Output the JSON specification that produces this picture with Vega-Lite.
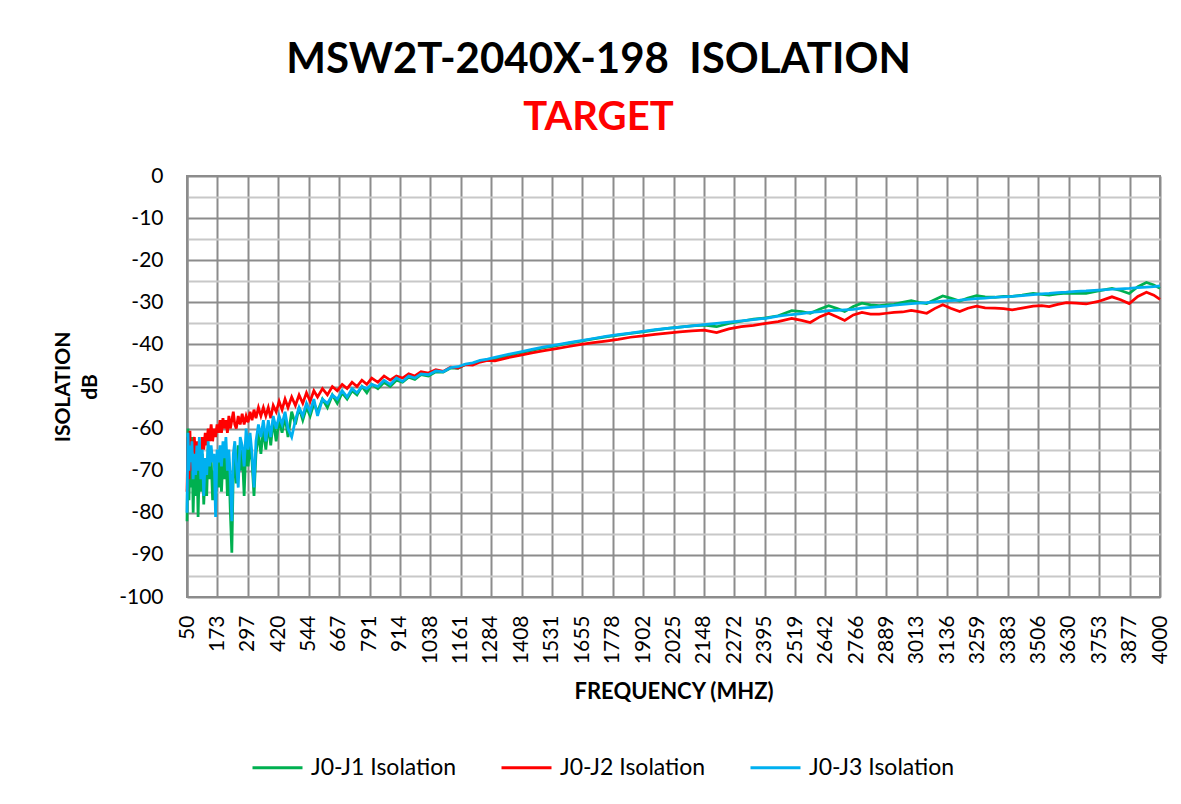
{
  "$schema": "https://vega.github.io/schema/vega-lite/v6.json",
  "width": 973,
  "height": 421,
  "autosize": "none",
  "padding": {"left": 187, "top": 176, "right": 21, "bottom": 207},
  "background": "white",
  "title": {
    "text": "MSW2T-2040X-198\u00a0\u00a0ISOLATION",
    "subtitle": "TARGET",
    "anchor": "middle",
    "dx": -75,
    "offset": 26,
    "font": "Lato",
    "fontSize": 42,
    "fontWeight": "bold",
    "color": "#000000",
    "subtitleFont": "Lato",
    "subtitleFontSize": 40,
    "subtitleFontWeight": "bold",
    "subtitleColor": "#FF0000",
    "subtitlePadding": 16
  },
  "data": {
    "values": [
      {"f": 50, "J1": -82, "J2": -75, "J3": -80},
      {"f": 54, "J1": -60, "J2": -62, "J3": -61},
      {"f": 58, "J1": -77, "J2": -72, "J3": -70},
      {"f": 62, "J1": -66, "J2": -60.5, "J3": -64},
      {"f": 66, "J1": -74, "J2": -70, "J3": -68},
      {"f": 70, "J1": -62, "J2": -66, "J3": -63},
      {"f": 75, "J1": -80, "J2": -64, "J3": -72},
      {"f": 80, "J1": -68, "J2": -62, "J3": -66},
      {"f": 85, "J1": -76, "J2": -69, "J3": -71},
      {"f": 90, "J1": -65, "J2": -63, "J3": -64},
      {"f": 95, "J1": -81, "J2": -67, "J3": -70},
      {"f": 100, "J1": -69, "J2": -64, "J3": -62},
      {"f": 106, "J1": -75, "J2": -66, "J3": -72},
      {"f": 112, "J1": -66, "J2": -62, "J3": -65},
      {"f": 118, "J1": -78, "J2": -65, "J3": -76},
      {"f": 124, "J1": -70, "J2": -61, "J3": -67},
      {"f": 130, "J1": -76, "J2": -64, "J3": -71},
      {"f": 136, "J1": -64, "J2": -60, "J3": -63},
      {"f": 142, "J1": -72, "J2": -63, "J3": -69},
      {"f": 148, "J1": -67, "J2": -59, "J3": -64},
      {"f": 154, "J1": -77, "J2": -63, "J3": -68},
      {"f": 160, "J1": -70, "J2": -60, "J3": -66},
      {"f": 166, "J1": -78, "J2": -62, "J3": -81},
      {"f": 172, "J1": -68, "J2": -59, "J3": -65},
      {"f": 178, "J1": -74, "J2": -61, "J3": -68},
      {"f": 184, "J1": -66, "J2": -58, "J3": -64},
      {"f": 190, "J1": -75, "J2": -61, "J3": -69},
      {"f": 196, "J1": -67, "J2": -57.5, "J3": -63},
      {"f": 202, "J1": -72, "J2": -60, "J3": -67},
      {"f": 208, "J1": -65, "J2": -58, "J3": -62},
      {"f": 214, "J1": -76, "J2": -61, "J3": -70},
      {"f": 220, "J1": -68, "J2": -57, "J3": -65},
      {"f": 226, "J1": -80, "J2": -60, "J3": -72},
      {"f": 232, "J1": -89.5, "J2": -58, "J3": -82},
      {"f": 238, "J1": -70, "J2": -56, "J3": -66},
      {"f": 244, "J1": -66, "J2": -59, "J3": -63},
      {"f": 250, "J1": -73, "J2": -60, "J3": -68},
      {"f": 258, "J1": -64, "J2": -57, "J3": -74},
      {"f": 266, "J1": -70, "J2": -59, "J3": -62},
      {"f": 274, "J1": -65, "J2": -56.5, "J3": -64},
      {"f": 282, "J1": -76, "J2": -59, "J3": -69},
      {"f": 290, "J1": -63, "J2": -57, "J3": -60},
      {"f": 298, "J1": -69, "J2": -58.5, "J3": -65},
      {"f": 306, "J1": -64, "J2": -56, "J3": -61},
      {"f": 314, "J1": -68, "J2": -58, "J3": -66},
      {"f": 322, "J1": -76, "J2": -55.5, "J3": -74},
      {"f": 330, "J1": -66, "J2": -57.5, "J3": -63},
      {"f": 340, "J1": -61, "J2": -55, "J3": -59},
      {"f": 350, "J1": -66, "J2": -57, "J3": -62},
      {"f": 360, "J1": -60, "J2": -55, "J3": -58},
      {"f": 370, "J1": -65, "J2": -57, "J3": -63},
      {"f": 380, "J1": -59, "J2": -55, "J3": -58},
      {"f": 390, "J1": -64, "J2": -57.5, "J3": -62},
      {"f": 400, "J1": -58, "J2": -54.5, "J3": -57},
      {"f": 412, "J1": -63, "J2": -56, "J3": -60},
      {"f": 424, "J1": -58, "J2": -53.5, "J3": -57},
      {"f": 436, "J1": -61, "J2": -55.5, "J3": -59},
      {"f": 448, "J1": -57, "J2": -53, "J3": -56},
      {"f": 460, "J1": -62, "J2": -55, "J3": -60},
      {"f": 475, "J1": -56, "J2": -52.5, "J3": -62},
      {"f": 490, "J1": -59, "J2": -54.5, "J3": -58},
      {"f": 505, "J1": -55, "J2": -52, "J3": -55},
      {"f": 520, "J1": -58, "J2": -54, "J3": -57},
      {"f": 535, "J1": -55, "J2": -51.5, "J3": -54},
      {"f": 550, "J1": -57, "J2": -53.5, "J3": -56},
      {"f": 565, "J1": -54, "J2": -51, "J3": -53},
      {"f": 580, "J1": -56, "J2": -52.5, "J3": -57},
      {"f": 600, "J1": -53, "J2": -50.5, "J3": -53},
      {"f": 620, "J1": -55, "J2": -52, "J3": -54},
      {"f": 640, "J1": -52, "J2": -50, "J3": -52},
      {"f": 660, "J1": -54, "J2": -51, "J3": -53},
      {"f": 680, "J1": -51.5, "J2": -49.5, "J3": -51},
      {"f": 700, "J1": -53, "J2": -50.5, "J3": -52.5},
      {"f": 720, "J1": -51, "J2": -49, "J3": -50.5},
      {"f": 740, "J1": -52, "J2": -50, "J3": -51.5},
      {"f": 760, "J1": -50, "J2": -48.5, "J3": -50},
      {"f": 780, "J1": -51.5, "J2": -49.5, "J3": -50.5},
      {"f": 800, "J1": -49.5, "J2": -48, "J3": -49.5},
      {"f": 825, "J1": -50.5, "J2": -49, "J3": -50},
      {"f": 850, "J1": -49, "J2": -47.5, "J3": -48.5},
      {"f": 875, "J1": -50, "J2": -48.5, "J3": -49.5},
      {"f": 900, "J1": -48.5, "J2": -47.5, "J3": -48},
      {"f": 925, "J1": -49, "J2": -48, "J3": -48.8},
      {"f": 950, "J1": -47.8, "J2": -47, "J3": -47.5},
      {"f": 975, "J1": -48.3, "J2": -47.5, "J3": -48},
      {"f": 1000, "J1": -47.2, "J2": -46.5, "J3": -47},
      {"f": 1030, "J1": -47.5, "J2": -46.8, "J3": -47.2},
      {"f": 1060, "J1": -46.5, "J2": -46, "J3": -46.3},
      {"f": 1090, "J1": -46.6, "J2": -46.4, "J3": -46.5},
      {"f": 1120, "J1": -45.6, "J2": -45.4, "J3": -45.5},
      {"f": 1150, "J1": -45.7, "J2": -45.6, "J3": -45.3},
      {"f": 1180, "J1": -44.8, "J2": -44.8, "J3": -44.7},
      {"f": 1210, "J1": -44.6, "J2": -44.9, "J3": -44.4},
      {"f": 1240, "J1": -43.9, "J2": -44.2, "J3": -43.8},
      {"f": 1270, "J1": -43.8, "J2": -43.8, "J3": -43.5},
      {"f": 1300, "J1": -43.4, "J2": -43.9, "J3": -43.1},
      {"f": 1350, "J1": -42.7, "J2": -43.2, "J3": -42.4},
      {"f": 1400, "J1": -42.0, "J2": -42.6, "J3": -41.8},
      {"f": 1450, "J1": -41.4, "J2": -42.0, "J3": -41.2},
      {"f": 1500, "J1": -40.8, "J2": -41.5, "J3": -40.6},
      {"f": 1550, "J1": -40.3, "J2": -41.0, "J3": -40.1},
      {"f": 1600, "J1": -39.7, "J2": -40.5, "J3": -39.6},
      {"f": 1650, "J1": -39.2, "J2": -40.0, "J3": -39.1},
      {"f": 1700, "J1": -38.7, "J2": -39.6, "J3": -38.6},
      {"f": 1750, "J1": -38.2, "J2": -39.2, "J3": -38.1},
      {"f": 1800, "J1": -37.8, "J2": -38.8, "J3": -37.7},
      {"f": 1850, "J1": -37.4, "J2": -38.3, "J3": -37.3},
      {"f": 1900, "J1": -37.0, "J2": -38.0, "J3": -36.9},
      {"f": 1950, "J1": -36.6, "J2": -37.6, "J3": -36.5},
      {"f": 2000, "J1": -36.2, "J2": -37.3, "J3": -36.2},
      {"f": 2050, "J1": -35.9, "J2": -37.0, "J3": -35.9},
      {"f": 2100, "J1": -35.6, "J2": -36.8, "J3": -35.6},
      {"f": 2150, "J1": -35.4, "J2": -36.6, "J3": -35.3},
      {"f": 2200, "J1": -35.8, "J2": -37.2, "J3": -35.0},
      {"f": 2250, "J1": -35.0, "J2": -36.3, "J3": -34.7},
      {"f": 2300, "J1": -34.5, "J2": -35.8, "J3": -34.4},
      {"f": 2350, "J1": -34.0, "J2": -35.5, "J3": -34.1},
      {"f": 2400, "J1": -33.7, "J2": -35.0, "J3": -33.8},
      {"f": 2450, "J1": -33.2, "J2": -34.6, "J3": -33.3},
      {"f": 2505, "J1": -32.0, "J2": -33.8, "J3": -32.9},
      {"f": 2545, "J1": -32.2, "J2": -34.3, "J3": -32.7},
      {"f": 2580, "J1": -32.6, "J2": -34.8, "J3": -32.4},
      {"f": 2620, "J1": -31.6, "J2": -33.4, "J3": -32.2},
      {"f": 2655, "J1": -30.8, "J2": -32.6, "J3": -32.0},
      {"f": 2690, "J1": -31.5, "J2": -33.5, "J3": -31.9},
      {"f": 2720, "J1": -32.2, "J2": -34.3, "J3": -31.8},
      {"f": 2755, "J1": -31.0, "J2": -33.0, "J3": -31.7},
      {"f": 2790, "J1": -30.2, "J2": -32.4, "J3": -31.4},
      {"f": 2825, "J1": -30.6, "J2": -32.8, "J3": -31.2},
      {"f": 2860, "J1": -30.8, "J2": -32.8, "J3": -31.0},
      {"f": 2890, "J1": -30.6, "J2": -32.6, "J3": -30.9},
      {"f": 2920, "J1": -30.5, "J2": -32.4, "J3": -30.7},
      {"f": 2955, "J1": -30.0, "J2": -32.3, "J3": -30.5},
      {"f": 2990, "J1": -29.6, "J2": -31.9, "J3": -30.3},
      {"f": 3020, "J1": -30.0, "J2": -32.2, "J3": -30.2},
      {"f": 3053, "J1": -30.3, "J2": -32.6, "J3": -30.1},
      {"f": 3085, "J1": -29.4, "J2": -31.5, "J3": -29.9},
      {"f": 3118, "J1": -28.5, "J2": -30.6, "J3": -29.7},
      {"f": 3150, "J1": -29.0, "J2": -31.4, "J3": -29.6},
      {"f": 3187, "J1": -29.7, "J2": -32.2, "J3": -29.5},
      {"f": 3220, "J1": -29.0, "J2": -31.4, "J3": -29.3},
      {"f": 3255, "J1": -28.4, "J2": -30.9, "J3": -29.1},
      {"f": 3290, "J1": -28.7, "J2": -31.3, "J3": -29.0},
      {"f": 3330, "J1": -28.8, "J2": -31.4, "J3": -28.8},
      {"f": 3365, "J1": -28.6, "J2": -31.5, "J3": -28.7},
      {"f": 3400, "J1": -28.6, "J2": -31.8, "J3": -28.6},
      {"f": 3440, "J1": -28.3, "J2": -31.4, "J3": -28.4},
      {"f": 3485, "J1": -27.9, "J2": -30.9, "J3": -28.2},
      {"f": 3520, "J1": -28.1, "J2": -30.8, "J3": -28.0},
      {"f": 3550, "J1": -28.3, "J2": -31.0, "J3": -27.9},
      {"f": 3585, "J1": -28.0, "J2": -30.5, "J3": -27.7},
      {"f": 3620, "J1": -27.8, "J2": -30.1, "J3": -27.6},
      {"f": 3660, "J1": -27.9, "J2": -30.2, "J3": -27.4},
      {"f": 3700, "J1": -27.9, "J2": -30.4, "J3": -27.3},
      {"f": 3750, "J1": -27.3, "J2": -29.8, "J3": -27.1},
      {"f": 3805, "J1": -26.7, "J2": -28.7, "J3": -26.9},
      {"f": 3840, "J1": -27.2, "J2": -29.4, "J3": -26.8},
      {"f": 3875, "J1": -27.9, "J2": -30.3, "J3": -26.7},
      {"f": 3910, "J1": -26.3, "J2": -28.6, "J3": -26.5},
      {"f": 3945, "J1": -25.3, "J2": -27.6, "J3": -26.4},
      {"f": 3975, "J1": -25.9, "J2": -28.3, "J3": -26.3},
      {"f": 4000, "J1": -26.7, "J2": -29.3, "J3": -26.1}
    ]
  },
  "transform": [
    {"fold": ["J1", "J2", "J3"], "as": ["series", "dB"]}
  ],
  "mark": {"type": "line", "strokeWidth": 2.75, "interpolate": "linear"},
  "encoding": {
    "x": {
      "field": "f",
      "type": "quantitative",
      "scale": {"domain": [50, 4000], "nice": false, "zero": false},
      "axis": {
        "values": [50, 173, 297, 420, 544, 667, 791, 914, 1038, 1161, 1284, 1408, 1531, 1655, 1778, 1902, 2025, 2148, 2272, 2395, 2519, 2642, 2766, 2889, 3013, 3136, 3259, 3383, 3506, 3630, 3753, 3877, 4000],
        "labelExpr": "'' + datum.value",
        "labelAngle": -90,
        "labelAlign": "right",
        "labelBaseline": "middle",
        "labelFont": "Lato",
        "labelFontSize": 21,
        "labelColor": "#000000",
        "labelPadding": 18,
        "labelOverlap": false,
        "labelBound": false,
        "labelFlush": false,
        "ticks": false,
        "domain": false,
        "grid": true,
        "gridColor": "#8c8c8c",
        "gridWidth": 2,
        "title": "FREQUENCY (MHZ)",
        "titleFont": "Lato",
        "titleFontSize": 22,
        "titleFontWeight": "bold",
        "titleColor": "#000000",
        "titlePadding": 18
      }
    },
    "y": {
      "field": "dB",
      "type": "quantitative",
      "scale": {"domain": [-100, 0], "nice": false},
      "axis": {
        "values": [0, -5, -10, -15, -20, -25, -30, -35, -40, -45, -50, -55, -60, -65, -70, -75, -80, -85, -90, -95, -100],
        "labelExpr": "datum.value % 10 === 0 ? '' + datum.value : ''",
        "labelFont": "Lato",
        "labelFontSize": 21,
        "labelColor": "#000000",
        "labelPadding": 24,
        "ticks": false,
        "domain": true,
        "domainColor": "#8c8c8c",
        "domainWidth": 2,
        "grid": true,
        "gridColor": {"condition": {"test": "datum.value % 10 === 0", "value": "#8c8c8c"}, "value": "#c8c8c8"},
        "gridWidth": 2,
        "title": ["ISOLATION", "dB"],
        "titleFont": "Lato",
        "titleFontSize": 21,
        "titleFontWeight": "bold",
        "titleColor": "#000000",
        "titleLineHeight": 27,
        "titlePadding": 18
      }
    },
    "color": {
      "field": "series",
      "type": "nominal",
      "scale": {"domain": ["J1", "J2", "J3"], "range": ["#00B050", "#FF0000", "#00B0F0"]},
      "legend": {
        "orient": "none",
        "legendX": 64,
        "legendY": 565,
        "direction": "horizontal",
        "title": null,
        "labelExpr": "'J0-' + datum.label + ' Isolation'",
        "labelFont": "Lato",
        "labelFontSize": 23,
        "labelColor": "#000000",
        "labelOffset": 7,
        "symbolType": "stroke",
        "symbolSize": 2500,
        "symbolStrokeWidth": 3,
        "columnPadding": 38
      }
    }
  },
  "config": {
    "view": {"stroke": "#8c8c8c", "strokeWidth": 2}
  }
}
